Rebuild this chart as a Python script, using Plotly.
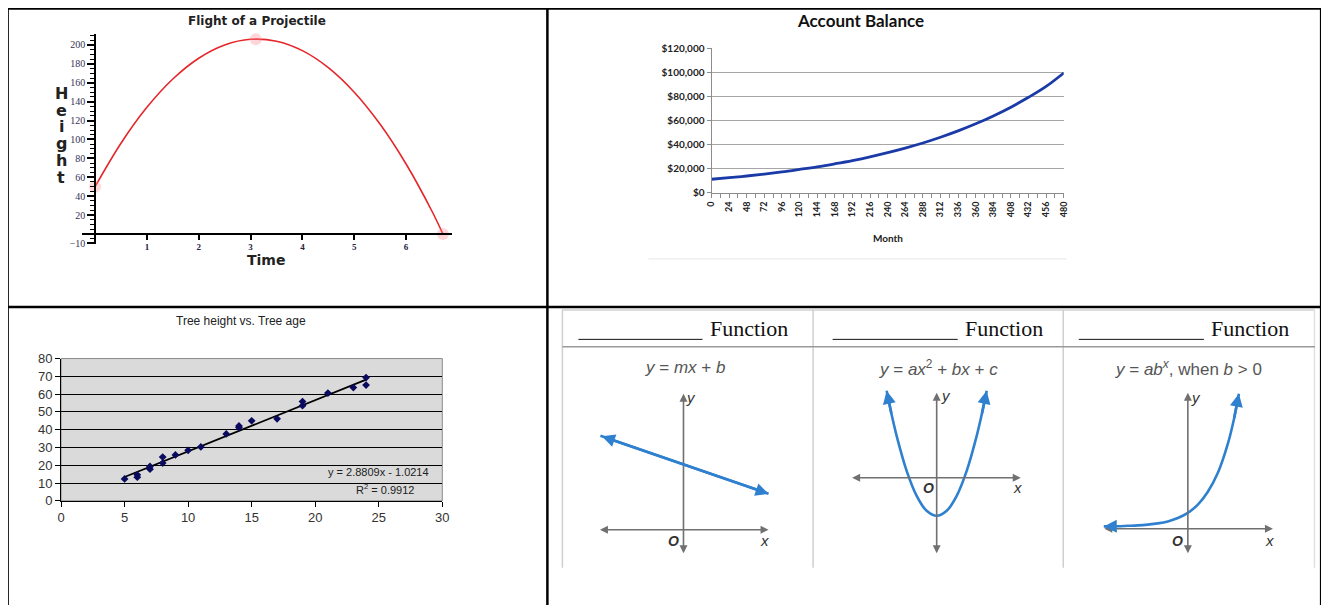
import plotly.graph_objects as go
import numpy as np

W, H = 1329, 605
# observed photo mapping: shown = 14 + s * figure_px  -> invert it so marks land where the reference has them
SX, SY, O = 0.9895, 0.9756, 14.0


def px(x):
    return ((x - O) / SX) / W


def py(y):
    return 1 - ((y - O) / SY) / H


# ---------------- DATA ----------------
# Flight of a Projectile
proj_time = [0, 0.5, 1, 1.5, 2, 2.5, 3, 3.5, 4, 4.5, 5, 5.5, 6, 6.5, 6.71]
proj_height = [50, 96, 134, 164, 186, 200, 206, 204, 194, 176, 150, 116, 74, 24, 0]
proj_mark_time = [0, 3.1, 6.71]
proj_mark_height = [50, 206, 0]
proj_yticks = [-10, 20, 40, 60, 80, 100, 120, 140, 160, 180, 200]
proj_xticks = [1, 2, 3, 4, 5, 6]

# Account Balance
acct_month = [0, 24, 48, 72, 96, 120, 144, 168, 192, 216, 240, 264, 288, 312,
              336, 360, 384, 408, 432, 456, 480]
acct_balance = [11400, 12700, 14100, 15700, 17500, 19600, 21800, 24300, 27000,
                30100, 33600, 37400, 41600, 46400, 51700, 57600, 64200, 71500,
                79700, 88800, 100000]
acct_yticks = [0, 20000, 40000, 60000, 80000, 100000, 120000]
acct_ytick_labels = ["$0", "$20,000", "$40,000", "$60,000", "$80,000", "$100,000", "$120,000"]

# Tree height vs. Tree age
tree_age = [5, 6, 6, 7, 7, 8, 8, 9, 10, 11, 13, 14, 14, 15, 17, 19, 19, 21, 23, 24, 24]
tree_height = [12.3, 13.3, 14.6, 17.8, 19.3, 21.2, 24.6, 25.8, 28.4, 30.3, 37.6,
               41.2, 42.1, 45.0, 46.1, 53.5, 55.8, 60.6, 63.7, 69.3, 65.1]
trend_slope = 2.8809
trend_intercept = -1.0214
trend_r2 = 0.9912
trend_x = [5, 24]

# Function sketches
lin_x = [-4.15, 4.25]
lin_y = [4.7, 1.8]
quad_x = [-2.5, -2.25, -2, -1.5, -1, -0.5, 0, 0.5, 1, 1.5, 2, 2.25, 2.5]
quad_y = [4.35, 3.16, 2.1, 0.35, -0.9, -1.65, -1.9, -1.65, -0.9, 0.35, 2.1, 3.16, 4.35]
exp_x = [-4.2, -3.5, -3, -2.5, -2, -1.5, -1, -0.5, 0, 0.5, 1, 1.5, 2, 2.3, 2.55]
exp_y = [0.12, 0.13, 0.15, 0.17, 0.21, 0.27, 0.37, 0.54, 0.8, 1.21, 1.85, 2.8, 4.26, 5.47, 6.75]
func_titles = ["<i>y</i> = <i>mx</i> + <i>b</i>",
               "<i>y</i> = <i>ax</i><sup>2</sup> + <i>bx</i> + <i>c</i>",
               "<i>y</i> = <i>ab<sup>x</sup></i>, when <i>b</i> &gt; 0"]

# ---------------- FIGURE ----------------
fig = go.Figure()

RED = "#e5262a"
BLUE_F = "#2f80cf"

fig.add_trace(go.Scatter(x=proj_time, y=proj_height, mode="lines",
                         line=dict(color=RED, width=1.6, shape="spline"),
                         xaxis="x", yaxis="y", cliponaxis=False))
fig.add_trace(go.Scatter(x=proj_mark_time, y=proj_mark_height, mode="markers",
                         marker=dict(color="rgba(255,140,150,0.35)", size=12),
                         xaxis="x", yaxis="y", cliponaxis=False))

fig.add_trace(go.Scatter(x=acct_month, y=acct_balance, mode="lines",
                         line=dict(color="#1a3aa8", width=2.8, shape="spline"),
                         xaxis="x2", yaxis="y2", cliponaxis=False))

trend_y = [trend_slope * v + trend_intercept for v in trend_x]
fig.add_trace(go.Scatter(x=trend_x, y=trend_y, mode="lines", line=dict(color="black", width=1.8),
                         xaxis="x3", yaxis="y3"))
fig.add_trace(go.Scatter(x=tree_age, y=tree_height, mode="markers",
                         marker=dict(symbol="diamond", color="#0a0a5e", size=6), xaxis="x3", yaxis="y3"))

fig.add_trace(go.Scatter(x=lin_x, y=lin_y, mode="lines", line=dict(color=BLUE_F, width=2.6),
                         xaxis="x4", yaxis="y4"))
fig.add_trace(go.Scatter(x=quad_x, y=quad_y, mode="lines", line=dict(color=BLUE_F, width=2.6, shape="spline"),
                         xaxis="x5", yaxis="y5"))
fig.add_trace(go.Scatter(x=exp_x, y=exp_y, mode="lines", line=dict(color=BLUE_F, width=2.6, shape="spline"),
                         xaxis="x6", yaxis="y6"))

# ---------------- AXES ----------------
layout_axes = {}
layout_axes["xaxis"] = dict(domain=[px(82), px(452)], range=[(82 - 95) / 51.8, (452 - 95) / 51.8],
                            anchor="free", position=py(233), showline=True, linecolor="black", linewidth=1.5,
                            ticks="outside", ticklen=5, tickcolor="black", tickwidth=1.5, tickvals=proj_xticks,
                            tickfont=dict(family="Liberation Serif", size=9, color="#222244", weight="bold"),
                            showgrid=False, zeroline=False)
layout_axes["yaxis"] = dict(domain=[py(233 + 10.5 * 0.945), py(233 - 211.5 * 0.945)], range=[-10.5, 211.5],
                            anchor="free", position=px(95), showline=True, linecolor="black", linewidth=1.5,
                            ticks="outside", ticklen=7, tickcolor="black", tickwidth=1.5, tickvals=proj_yticks,
                            minor=dict(tickmode="linear", tick0=0, dtick=5, ticks="outside", ticklen=4,
                                       tickcolor="black", tickwidth=1.2),
                            tickfont=dict(family="Liberation Serif", size=10, color="#333355"),
                            showgrid=False, zeroline=False)
layout_axes["xaxis2"] = dict(domain=[px(711), px(1063)], range=[0, 480], anchor="y2", showline=True,
                             linecolor="#8c8c8c", linewidth=1, ticks="outside", ticklen=4, tickcolor="#8c8c8c",
                             tickvals=acct_month, tickangle=-90,
                             minor=dict(tickmode="linear", tick0=0, dtick=12, ticks="outside", ticklen=4,
                                        tickcolor="#8c8c8c"),
                             tickfont=dict(family="Lato", size=9, color="#222", weight="bold"),
                             showgrid=False, zeroline=False)
layout_axes["yaxis2"] = dict(domain=[py(192), py(192 - 24 * 6.03)], range=[0, 120600], anchor="x2",
                             showline=True, linecolor="#8c8c8c", linewidth=1, ticks="outside", ticklen=4,
                             tickcolor="#8c8c8c", tickvals=acct_yticks, ticktext=acct_ytick_labels,
                             tickfont=dict(family="Lato", size=10, color="#222", weight="bold"),
                             showgrid=True, gridcolor="#a6a6a6", gridwidth=1, zeroline=False)
layout_axes["xaxis3"] = dict(domain=[px(61), px(442)], range=[0, 30], anchor="y3", dtick=5, tick0=0,
                             showline=True, linecolor="black", linewidth=1, ticks="outside", ticklen=5,
                             tickcolor="black", tickfont=dict(family="Liberation Sans", size=13, color="#333"),
                             showgrid=False, zeroline=False)
layout_axes["yaxis3"] = dict(domain=[py(500), py(357.7)], range=[0, 80], anchor="x3", dtick=10, tick0=0,
                             showline=True, linecolor="black", linewidth=1, ticks="outside", ticklen=5,
                             tickcolor="black", tickfont=dict(family="Liberation Sans", size=13, color="#333"),
                             showgrid=True, gridcolor="black", gridwidth=1, zeroline=False)
panels = [
    (4, 683, 529, 590, 776),
    (5, 936, 477, 840, 1032),
    (6, 1187, 528, 1090, 1284),
]
for idx, ox, oy, xa, xb in panels:
    ya, yb = 385, 560
    layout_axes[f"xaxis{idx}"] = dict(domain=[px(xa), px(xb)], range=[(xa - ox) / 20, (xb - ox) / 20],
                                      anchor=f"y{idx}", visible=False)
    layout_axes[f"yaxis{idx}"] = dict(domain=[py(yb), py(ya)], range=[(oy - yb) / 20, (oy - ya) / 20],
                                      anchor=f"x{idx}", visible=False)

fig.update_layout(**layout_axes)

# ---------------- SHAPES ----------------
shapes = []


def pline(x0, y0, x1, y1, color="black", width=2.5):
    shapes.append(dict(type="line", xref="paper", yref="paper", x0=px(x0), y0=py(y0), x1=px(x1), y1=py(y1),
                       line=dict(color=color, width=width)))


# table grid (outer edges kept inside the visible area of the photo)
pline(6.5, 7.6, 1321, 7.6)
pline(7.6, 6.5, 7.6, 615)
pline(547, 6.5, 547, 615)
pline(6.5, 306, 1321, 306)
pline(1320.2, 6.5, 1320.2, 615)

shapes.append(dict(type="rect", xref="x3 domain", yref="y3 domain", x0=0, x1=1, y0=0, y1=1,
                   fillcolor="#dadada", line=dict(color="#8a8a8a", width=1), layer="below"))

pline(648, 258, 1066, 258, color="#e6e6e6", width=1)

pline(561.5, 309, 1314, 309, color="#d0d0d0", width=1.5)
pline(562, 309, 562, 567, color="#cfcfcf", width=1.5)
pline(812.5, 309, 812.5, 567, color="#cfcfcf", width=1.5)
pline(1062.5, 309, 1062.5, 567, color="#cfcfcf", width=1.5)
pline(1313.5, 309, 1313.5, 567, color="#e0e0e0", width=1.5)
pline(562, 346, 1314, 346, color="#9a9a9a", width=1.5)
for a, b in [(578, 702), (832, 957), (1078, 1203)]:
    pline(a, 338.5, b, 338.5, color="#111", width=1)

fig.update_layout(shapes=shapes)

# ---------------- ANNOTATIONS ----------------
ann = []


def ptext(x, y, text, size, family="Liberation Sans", color="#222", weight="normal", xanchor="center",
          yanchor="middle"):
    ann.append(dict(x=px(x), y=py(y), xref="paper", yref="paper", text=text, showarrow=False,
                    xanchor=xanchor, yanchor=yanchor,
                    font=dict(size=size, family=family, color=color, weight=weight)))


ptext(257, 20, "Flight of a Projectile", 12, family="DejaVu Sans", weight="bold", color="#222")
ptext(266, 259, "Time", 14, family="DejaVu Sans", weight="bold", color="#222")
for letter, yy in zip("Height", [93, 110, 126, 143, 160, 177]):
    ptext(61, yy, letter, 16, family="DejaVu Sans", weight="bold", color="#222")

ptext(860, 20, "Account Balance", 17, family="Lato", weight="bold", color="#111")
ptext(887, 237, "Month", 10, family="Lato", weight="bold", color="#222")

ptext(241, 320, "Tree height vs. Tree age", 12, color="#222")
ptext(378.5, 471, f"y = {trend_slope:.4f}x - {abs(trend_intercept):.4f}", 11, color="#222")
ptext(385, 488, f"R<sup>2</sup> = {trend_r2:.4f}", 11, color="#222")

for cx in [748, 1003, 1249]:
    ptext(cx, 328, "Function", 22, family="Liberation Serif", color="#111")
for cx, t in zip([685, 938, 1188], func_titles):
    ptext(cx, 367, t, 17, color="#555")


def arrow(ax_i, x, y, tx, ty, color, width, size, side="end"):
    ann.append(dict(x=x, y=y, ax=tx, ay=ty, xref=f"x{ax_i}", yref=f"y{ax_i}", axref=f"x{ax_i}",
                    ayref=f"y{ax_i}", text="", showarrow=True, arrowhead=2, arrowsize=size,
                    arrowwidth=width, arrowcolor=color, arrowside=side, standoff=0, startstandoff=0))


def atext(ax_i, x, y, text, size=15):
    ann.append(dict(x=x, y=y, xref=f"x{ax_i}", yref=f"y{ax_i}", text=text, showarrow=False,
                    font=dict(size=size, family="Liberation Sans", color="#333")))


GRAY = "#707070"
arrow(4, 4.25, 0, -4.25, 0, GRAY, 1.6, 1.0, "end+start")
arrow(4, 0, 6.8, 0, -1.25, GRAY, 1.6, 1.0, "end+start")
arrow(5, 4.2, 0, -4.3, 0, GRAY, 1.6, 1.0, "end+start")
arrow(5, 0, 4.25, 0, -3.85, GRAY, 1.6, 1.0, "end+start")
arrow(6, 4.25, 0, -4.25, 0, GRAY, 1.6, 1.0, "end+start")
arrow(6, 0, 6.8, 0, -1.3, GRAY, 1.6, 1.0, "end+start")

arrow(4, lin_x[-1], lin_y[-1], lin_x[0], lin_y[0], BLUE_F, 2.6, 1.0, "end+start")
arrow(5, quad_x[0], quad_y[0], quad_x[1], quad_y[1], BLUE_F, 2.6, 1.0)
arrow(5, quad_x[-1], quad_y[-1], quad_x[-2], quad_y[-2], BLUE_F, 2.6, 1.0)
arrow(6, exp_x[0], exp_y[0], exp_x[1], exp_y[1], BLUE_F, 2.6, 1.0)
arrow(6, exp_x[-1], exp_y[-1], exp_x[-2], exp_y[-2], BLUE_F, 2.6, 1.0)

for i, (o, xl, yl) in {4: ((-0.5, -0.55), (4.05, -0.55), (0.4, 6.6)),
                       5: ((-0.4, -0.5), (4.05, -0.5), (0.45, 4.1)),
                       6: ((-0.5, -0.6), (4.1, -0.6), (0.4, 6.55))}.items():
    atext(i, o[0], o[1], "<b><i>O</i></b>", 14)
    atext(i, xl[0], xl[1], "<i>x</i>", 15)
    atext(i, yl[0], yl[1], "<i>y</i>", 15)

fig.update_layout(annotations=ann)

fig.update_layout(width=W, height=H, margin=dict(l=0, r=0, t=0, b=0), paper_bgcolor="white",
                  plot_bgcolor="rgba(0,0,0,0)", showlegend=False)

fig.write_html("out.html")
